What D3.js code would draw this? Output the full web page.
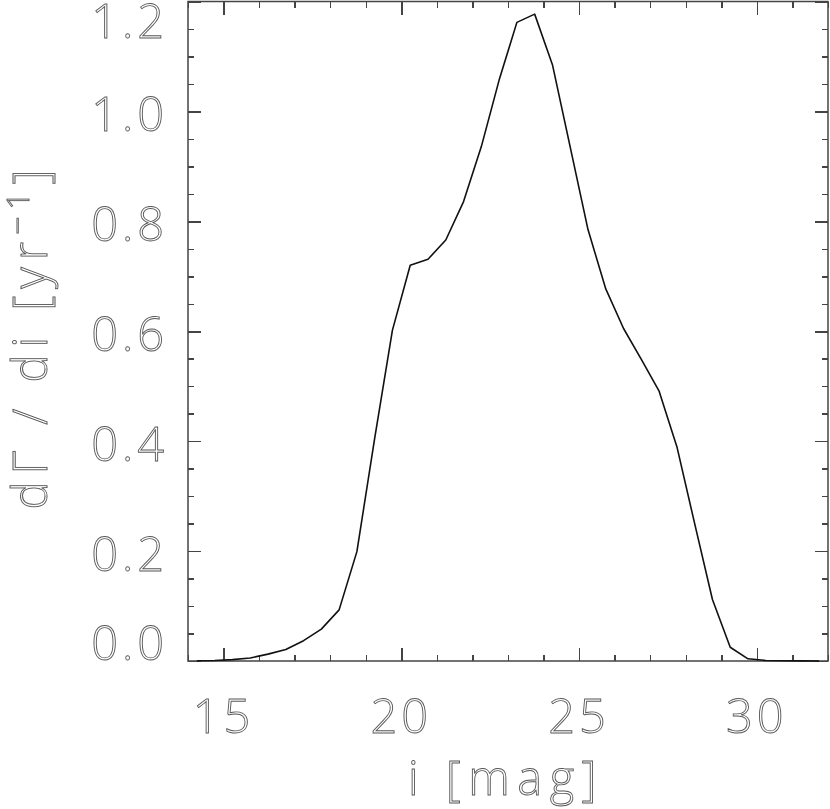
<!DOCTYPE html>
<html>
<head>
<meta charset="utf-8">
<script src="https://cdn.jsdelivr.net/npm/d3@7"></script>
<style>
  html, body { margin: 0; padding: 0; background: #fff; }
  svg { display: block; }
  .lbl { font-family: "Open Sans", "DejaVu Sans", sans-serif; font-weight: 300; font-size: 47px;
         fill: #fff; stroke: #555; stroke-width: 0.9px; letter-spacing: 4px; }
  .labels { opacity: 0.99; }
  .axis path, .axis line { stroke: #444; stroke-width: 1.5px; shape-rendering: crispEdges; }
</style>
</head>
<body>
<svg id="chart" width="830" height="809"></svg>
<script>
// ---- data ----
const magnitude = [14.25, 14.75, 15.25, 15.75, 16.25, 16.75, 17.25, 17.75, 18.25, 18.75,
                   19.25, 19.75, 20.25, 20.75, 21.25, 21.75, 22.25, 22.75, 23.25, 23.75,
                   24.25, 24.75, 25.25, 25.75, 26.25, 26.75, 27.25, 27.75, 28.25, 28.75,
                   29.25, 29.75, 30.25, 30.75, 31.25, 31.75];
const rate = [0.0005, 0.001, 0.0025, 0.0055, 0.0125, 0.021, 0.037, 0.058, 0.093, 0.199,
              0.405, 0.602, 0.720, 0.731, 0.766, 0.836, 0.936, 1.057, 1.162, 1.177,
              1.085, 0.935, 0.785, 0.677, 0.605, 0.549, 0.491, 0.390, 0.250, 0.112,
              0.025, 0.004, 0.001, 0.0004, 0.0002, 0.0001];
const xDomain = [14, 32];
const yDomain = [0, 1.2];
const xMajorTicks = [15, 20, 25, 30];
const xTickLabels = ["15", "20", "25", "30"];
const xMinorTicks = [14, 16, 17, 18, 19, 21, 22, 23, 24, 26, 27, 28, 29, 31, 32];
const yMajorTicks = [0, 0.2, 0.4, 0.6, 0.8, 1.0, 1.2];
const yTickLabels = ["0.0", "0.2", "0.4", "0.6", "0.8", "1.0", "1.2"];
const yMinorTicks = [0.05, 0.1, 0.15, 0.25, 0.3, 0.35, 0.45, 0.5, 0.55, 0.65, 0.7, 0.75,
                     0.85, 0.9, 0.95, 1.05, 1.1, 1.15];
const xTitle = "i [mag]";

// ---- layout ----
const L = 188, R = 828, T = 1.5, B = 661;
const svg = d3.select("#chart");
const x = d3.scaleLinear().domain(xDomain).range([L, R]);
const y = d3.scaleLinear().domain(yDomain).range([B, T]);

function drawAxis(axisFn, scale, ticks, size, tx, ty) {
  const g = svg.append("g").attr("class", "axis").attr("transform", `translate(${tx},${ty})`)
    .call(axisFn(scale).tickValues(ticks).tickSizeInner(size).tickSizeOuter(0).tickFormat(""));
  g.select(".domain").remove();
  return g;
}
// ticks on all four sides, pointing inward
drawAxis(d3.axisBottom, x, xMajorTicks, -13, 0, B);
drawAxis(d3.axisBottom, x, xMinorTicks, -6, 0, B);
drawAxis(d3.axisTop, x, xMajorTicks, -13, 0, T);
drawAxis(d3.axisTop, x, xMinorTicks, -6, 0, T);
drawAxis(d3.axisLeft, y, yMajorTicks, -13, L, 0);
drawAxis(d3.axisLeft, y, yMinorTicks, -6, L, 0);
drawAxis(d3.axisRight, y, yMajorTicks, -13, R, 0);
drawAxis(d3.axisRight, y, yMinorTicks, -6, R, 0);

// frame
svg.append("rect").attr("x", L).attr("y", T).attr("width", R - L).attr("height", B - T)
  .attr("fill", "none").attr("stroke", "#444").attr("stroke-width", 1.5);

// data line
const line = d3.line().x((d, i) => x(magnitude[i])).y(d => y(d));
svg.append("path").datum(rate).attr("d", line)
  .attr("fill", "none").attr("stroke", "#111").attr("stroke-width", 1.6)
  .attr("stroke-linejoin", "round");

const labels = svg.append("g").attr("class", "labels");

// x tick labels
labels.selectAll(".xl").data(xMajorTicks).enter().append("text")
  .attr("class", "lbl").attr("text-anchor", "middle")
  .attr("x", d => x(d)).attr("y", 733)
  .text((d, i) => xTickLabels[i]);

// y tick labels (first/last kept inside axis range)
labels.selectAll(".yl").data(yMajorTicks).enter().append("text")
  .attr("class", "lbl").attr("text-anchor", "end")
  .attr("x", 168).attr("y", d => Math.max(38, Math.min(660, y(d) + 20)))
  .text((d, i) => yTickLabels[i]);

// x title
labels.append("text").attr("class", "lbl").attr("text-anchor", "middle")
  .attr("x", 506).attr("y", 795).style("letter-spacing", "7.5px").text(xTitle);

// y title
const yt = labels.append("text").attr("class", "lbl").attr("text-anchor", "middle")
  .attr("transform", "translate(47,336) rotate(-90)").style("letter-spacing", "7px");
yt.append("tspan").text("dΓ / di [yr");
yt.append("tspan").attr("dy", -18).style("font-size", "32px").text("−1");
yt.append("tspan").attr("dy", 18).text("]");
</script>
</body>
</html>
